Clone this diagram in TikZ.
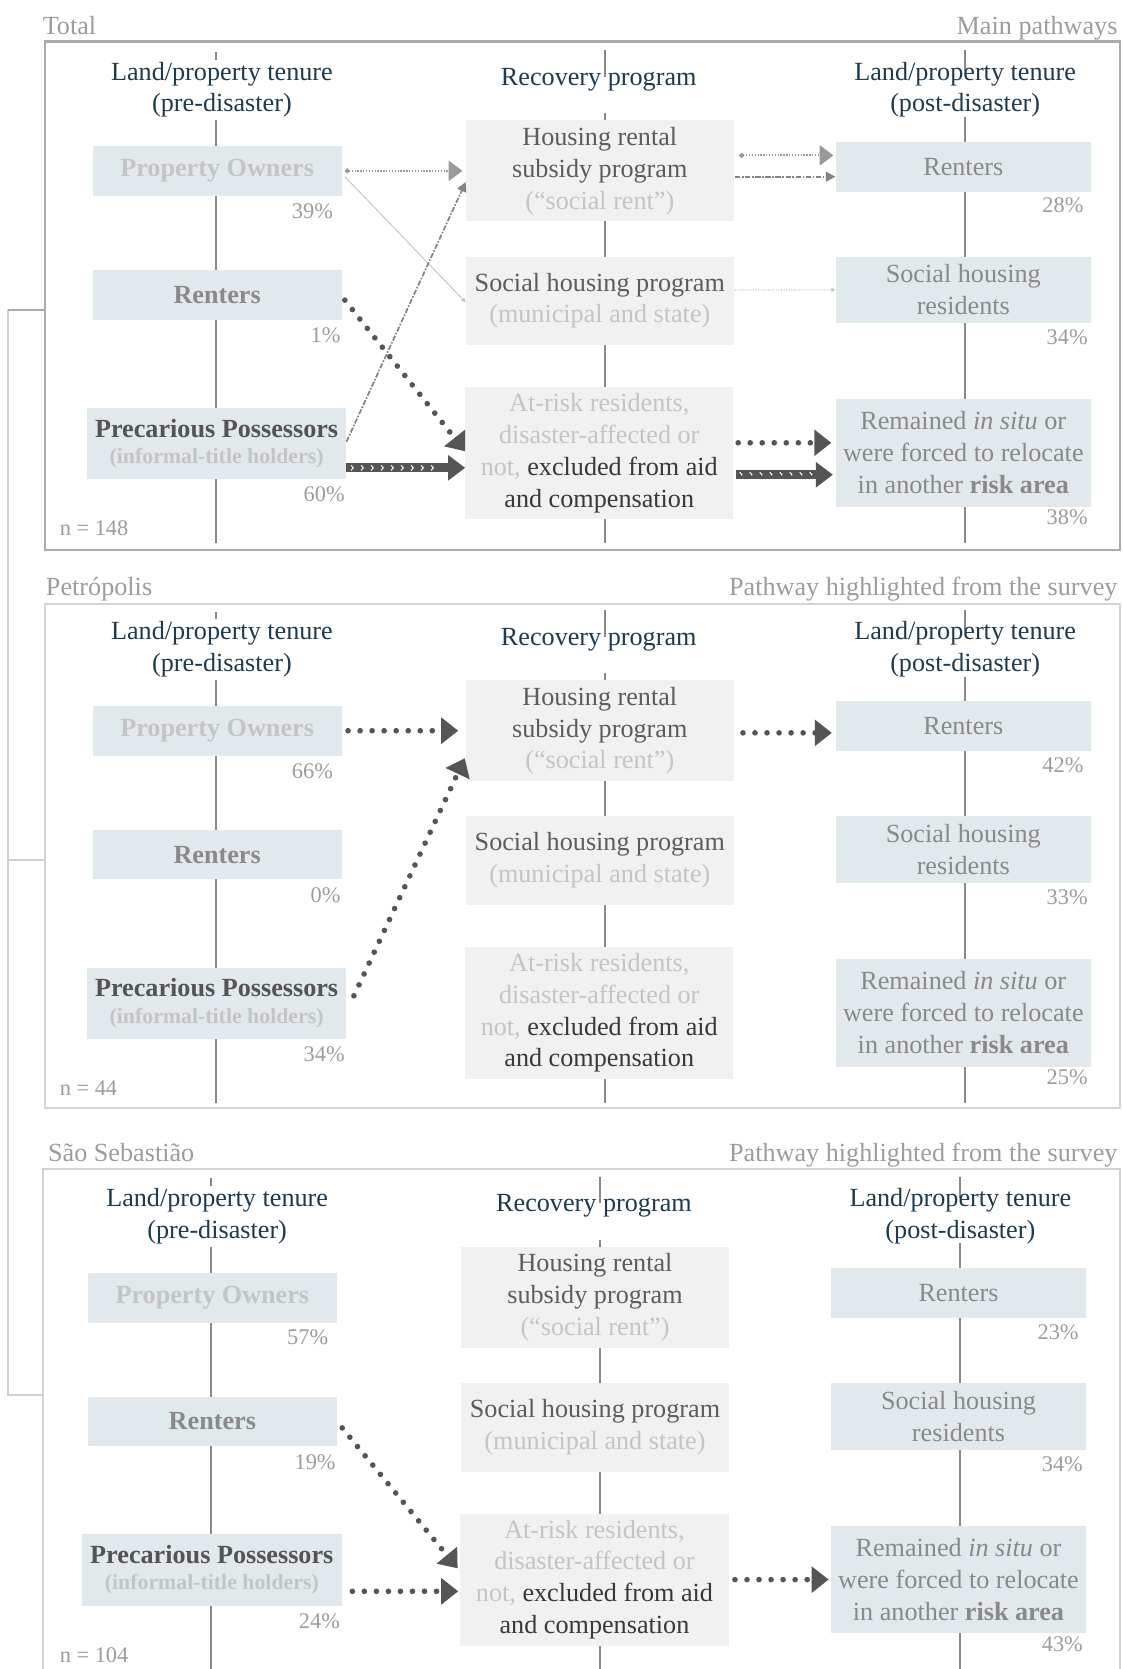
\documentclass[tikz,border=0pt]{standalone}
\usepackage{fontspec}
\setmainfont{Liberation Serif}
\usetikzlibrary{arrows.meta,calc,decorations.markings}
\definecolor{navy}{HTML}{1D3A4F}
\definecolor{boxblue}{HTML}{E2E9ED}
\definecolor{boxgray}{HTML}{F1F1F1}
\definecolor{txlight}{HTML}{C4C4C4}
\definecolor{txmid}{HTML}{898989}
\definecolor{txdark}{HTML}{545454}
\definecolor{txprog}{HTML}{5C5C5C}
\definecolor{txblack}{HTML}{383838}
\definecolor{lblgray}{HTML}{9C9C9C}
\definecolor{axisgray}{HTML}{8A8A8A}
\definecolor{arrdark}{HTML}{555555}
\definecolor{arrlight}{HTML}{9A9A9A}
\definecolor{framedark}{HTML}{AAAAAA}
\definecolor{framelight}{HTML}{D4D4D4}
\definecolor{brackgray}{HTML}{CFCFCF}

\tikzset{
  txt/.style={inner sep=0pt, outer sep=0pt, align=center, font=\fontsize{24.6}{30}\selectfont},
  tbox/.style={txt, fill=boxblue, minimum width=240pt},
  pbox/.style={txt, fill=boxgray, minimum width=252pt},
  hdr/.style={txt, text=navy},
  posty/.style={tbox, minimum width=234pt, minimum height=47pt, text=txlight, font=\fontsize{24.6}{30}\selectfont\bfseries},
  rtsty/.style={tbox, minimum width=234pt, minimum height=46.5pt, text=txmid, font=\fontsize{24.6}{30}\selectfont\bfseries},
  ppsty/.style={tbox, minimum width=244pt, minimum height=67pt, text=txdark, font=\fontsize{24.6}{30}\selectfont\bfseries},
  hssty/.style={pbox, minimum height=95pt, text=txprog},
  shsty/.style={pbox, minimum height=83pt, text=txprog},
  arsty/.style={pbox, minimum height=124pt, text=txblack},
  rrsty/.style={tbox, minimum height=47pt, text=txmid},
  srsty/.style={tbox, minimum height=62.6pt, text=txmid},
  rmsty/.style={tbox, minimum height=101pt, text=txmid},
  pct/.style={inner sep=0pt, anchor=base east, text=lblgray, font=\fontsize{21}{25}\selectfont},
  ncount/.style={inner sep=0pt, anchor=base west, text=lblgray, font=\fontsize{21}{25}\selectfont},
  seclabel/.style={inner sep=0pt, text=lblgray, font=\fontsize{24.6}{30}\selectfont},
  axisline/.style={draw=axisgray, line width=1.8pt},
  dotarrow/.style={draw=arrdark, line width=5.3pt, line cap=round, dash pattern=on 0pt off 11.3pt, -{Triangle[length=16pt,width=24pt]}},
  thindot/.style={draw=arrlight, line width=1.7pt, dash pattern=on 1.2pt off 1.5pt, {Circle[length=4.5pt]}-{Triangle[length=13pt,width=19pt]}},
  dashdot/.style={draw=arrlight!85!black, line width=1.6pt, dash pattern=on 5pt off 1.5pt on 1.5pt off 1.5pt, -{Triangle[length=9pt,width=9pt]}},
  thinline/.style={draw=txlight, line width=0.9pt, -{Triangle[length=4pt,width=4pt]}},
  faintdot/.style={draw=txlight, line width=1.1pt, dash pattern=on 1pt off 1.4pt, -{Triangle[length=4pt,width=4pt]}},
  chev/.style={draw=arrdark, line width=8.5pt, -{Triangle[length=16pt,width=23pt]},
    postaction={decorate, decoration={markings,
      mark=between positions 0.05 and 0.8 step 9.4pt with {\draw[white, -, line width=0.9pt, line cap=butt] (-1.3pt,2.4pt) -- (0.9pt,0pt) -- (-1.3pt,-2.4pt);}}}},
}

\newcommand\tenurecols[1]{%
  \draw[axisline] (203,48.5) -- (203,56) (203,113) -- (203,510);
  \draw[axisline] (568,47) -- (568,72) (568,106.5) -- (568,510);
  \draw[axisline] (906.5,47) -- (906.5,67) (906.5,109.6) -- (906.5,510);
  \node[hdr] (hL#1) at (208.5,84.3) {Land/property tenure\\(pre-disaster)};
  \node[hdr, anchor=base] (hM#1) at (562.5,80) {Recovery program};
  \node[hdr] (hR#1) at (906.75,84.3) {Land/property tenure\\(post-disaster)};
  \node[posty] (po#1) at (204,160.5) {Property Owners};
  \node[rtsty] (rt#1) at (204,277) {Renters};
  \node[ppsty] (pp#1) at (203.5,416.5) {Precarious Possessors\\[-5.5pt]{\fontsize{20.5}{24}\selectfont\textcolor{txlight}{(informal-title holders)}}};
  \node[hssty] (hs#1) at (563.5,160.5) {Housing rental\\subsidy program\\\textcolor{txlight}{(“social rent”)}};
  \node[shsty] (sh#1) at (563.5,282.5) {Social housing program\\\textcolor{txlight}{(municipal and state)}};
  \node[arsty] (ar#1) at (563,425.5) {\textcolor{txlight}{At-risk residents,}\\\textcolor{txlight}{disaster-affected or}\\\textcolor{txlight}{not,} excluded from aid\\and compensation};
  \node[rrsty] (rr#1) at (905,156.5) {Renters};
  \node[srsty] (sr#1) at (905,272.3) {Social housing\\residents};
  \node[rmsty] (rm#1) at (905,425.5) {Remained \textit{in situ} or\\were forced to relocate\\in another \textbf{risk area}};
}

\begin{document}
\begin{tikzpicture}[x=1pt,y=-1pt]
\useasboundingbox (0,0) rectangle (1055,1568);
\clip (0,0) rectangle (1055,1568);

% frames
\draw[framedark, line width=2pt] (42,39) rectangle (1052,517);
\draw[framelight, line width=2pt] (42,567.5) rectangle (1052,1041);
\draw[framelight, line width=2pt] (40.5,1098.5) rectangle (1052,1600);

% bracket
\draw[brackgray, line width=1.6pt] (42,808) -- (7.4,808) (7.4,291) -- (7.4,1310.5) -- (40.5,1310.5);
\draw[framedark, line width=1.6pt] (7.4,291) -- (42,291);

% ---------------- Total ----------------
\node[seclabel, anchor=base west] (lblA) at (40,32.5) {Total};
\node[seclabel, anchor=base east] (lblAr) at (1050,32.5) {Main pathways};
\tenurecols{A}
\node[pct] (pA1) at (313,205) {39\%};
\node[pct] (pA2) at (320,322) {1\%};
\node[pct] (pA3) at (324,471) {60\%};
\node[pct] (pA4) at (1018,200) {28\%};
\node[pct] (pA5) at (1022,324) {34\%};
\node[pct] (pA6) at (1022,493) {38\%};
\node[ncount] (nA) at (56,503) {n = 148};

% ---------------- Petrópolis ----------------
\begin{scope}[shift={(0,526)}]
\node[seclabel, anchor=base west] (lblB) at (43,33.5) {Petrópolis};
\node[seclabel, anchor=base east] (lblBr) at (1050,33.5) {Pathway highlighted from the survey};
\tenurecols{B}
\node[pct] (pB1) at (313,205) {66\%};
\node[pct] (pB2) at (320,322) {0\%};
\node[pct] (pB3) at (324,471) {34\%};
\node[pct] (pB4) at (1018,200) {42\%};
\node[pct] (pB5) at (1022,324) {33\%};
\node[pct] (pB6) at (1022,493) {25\%};
\node[ncount] (nB) at (56,503) {n = 44};
\end{scope}

% ---------------- São Sebastião ----------------
\begin{scope}[shift={(-4.5,1058.5)}]
\node[seclabel, anchor=base west] (lblC) at (49.5,33) {São Sebastião};
\node[seclabel, anchor=base east] (lblCr) at (1054.5,33) {Pathway highlighted from the survey};
\tenurecols{C}
\node[pct] (pC1) at (313,205) {57\%};
\node[pct] (pC2) at (320,322) {19\%};
\node[pct] (pC3) at (324,471) {24\%};
\node[pct] (pC4) at (1018,200) {23\%};
\node[pct] (pC5) at (1022,324) {34\%};
\node[pct] (pC6) at (1022,493) {43\%};
\node[ncount] (nC) at (60.5,503) {n = 104};
\end{scope}

% ---------------- connectors: Total ----------------
\draw[thindot, shorten <=3pt, shorten >=3pt] (poA.east) -- (hsA.west);
\draw[thinline] ($(poA.east)+(3,5.5)$) -- ($(shA.west)+(0,1.5)$);
\draw[dashdot] ($(ppA.east)+(0,-1.5)$) -- ($(hsA.west)+(0,10.5)$);
\draw[dotarrow] ($(rtA.east)+(3,5)$) -- ($(arA.west)+(0,-1.5)$);
\draw[chev] ($(ppA.east)+(0,23)$) -- ($(arA.west)+(0,14)$);
\draw[thindot, shorten >=2pt] ($(hsA.east)+(5,-14.5)$) -- ($(rrA.west)+(0,-10.5)$);
\draw[dashdot] ($(hsA.east)+(1,5.5)$) -- ($(rrA.west)+(0,9.5)$);
\draw[faintdot] ($(shA.east)+(1,-10)$) -- (srA.west);
\draw[dotarrow, shorten >=4pt] ($(arA.east)+(4.5,-9.5)$) -- ($(rmA.west)+(0,-9.5)$);
\draw[chev, shorten >=2.5pt] ($(arA.east)+(2.5,20.5)$) -- ($(rmA.west)+(0,20.5)$);

% ---------------- connectors: Petrópolis ----------------
\draw[dotarrow, shorten >=7pt] ($(poB.east)+(6,0)$) -- (hsB.west);
\draw[dotarrow, shorten >=2pt] ($(ppB.east)+(7,-7)$) -- ($(hsB.west)+(0,24)$);
\draw[dotarrow, shorten >=3.5pt] ($(hsB.east)+(8.5,2)$) -- ($(rrB.west)+(0,6)$);

% ---------------- connectors: São Sebastião ----------------
\draw[dotarrow, shorten >=4pt] ($(rtC.east)+(5,6)$) -- ($(arC.west)+(0,-7.5)$);
\draw[dotarrow, shorten >=2pt] ($(ppC.east)+(10,20)$) -- ($(arC.west)+(0,11)$);
\draw[dotarrow, shorten >=2pt] ($(arC.east)+(6,0)$) -- (rmC.west);
\end{tikzpicture}
\end{document}
